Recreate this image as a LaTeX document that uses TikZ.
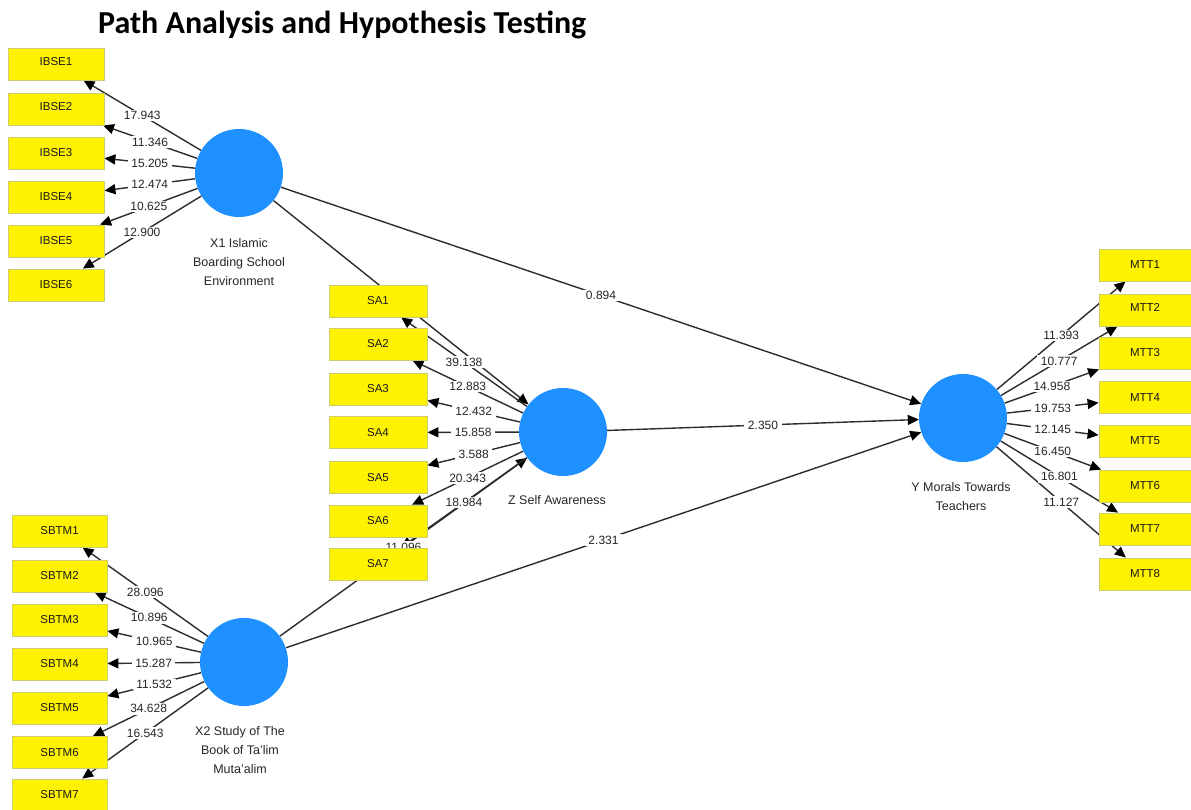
\documentclass[tikz,border=0pt]{standalone}
\usepackage{fontspec}
\setmainfont{Liberation Sans}
\newfontfamily\titlefont{Carlito}
\usetikzlibrary{arrows.meta}
\definecolor{latblue}{RGB}{30,144,255}
\definecolor{boxline}{RGB}{205,205,110}
\definecolor{edgecol}{RGB}{45,45,45}
\pgfdeclarelayer{back}
\pgfdeclarelayer{bg}
\pgfsetlayers{back,bg,main}
\begin{document}
\begin{tikzpicture}[x=1pt,y=-1pt,
 ind/.style={draw=boxline,line width=0.8pt,fill=yellow,minimum width=96pt,minimum height=32pt,inner sep=0pt,font=\fontsize{11.5}{12}\selectfont,text=black!90},
 lat/.style={circle,fill=latblue,minimum size=88pt,inner sep=0pt},
 arr/.style={draw=edgecol,line width=1.4pt,-{Triangle[length=11pt,width=10pt,black]}},
 lbl/.style={fill=white,inner xsep=3.5pt,inner ysep=1.5pt,font=\fontsize{12}{13}\selectfont,text=black!85},
 latcap/.style={align=center,font=\fontsize{12.5}{19}\selectfont,text=black!85}]
\useasboundingbox (0,0) rectangle (1191,810);
\begin{pgfonlayer}{back}
\fill[white] (0,0) rectangle (1191,810);
\end{pgfonlayer}

% title
\node[anchor=base west,inner sep=0pt,font=\titlefont\bfseries\fontsize{32}{36}\selectfont] (title) at (98,34) {Path Analysis and Hypothesis Testing};

% latent variables
\node[lat] (X1) at (239,173) {};
\node[lat] (Z) at (563,432) {};
\node[lat] (Y) at (963,418) {};
\node[lat] (X2) at (244,662) {};
\node[latcap] (X1cap) at (239,262) {X1 Islamic\\Boarding School\\Environment};
\node[latcap] (Zcap) at (557,500) {Z Self Awareness};
\node[latcap] (Ycap) at (961,497) {Y Morals Towards\\Teachers};
\node[latcap] (X2cap) at (240,750) {X2 Study of The\\Book of Ta'lim\\Muta'alim};

% indicators
\foreach \i/\y/\r in {1/64/6,2/109/6,3/153/0,4/197/0,5/241/0,6/285/0}
  \node[ind] (IBSE\i) at (56,\y) {\raisebox{\r pt}{IBSE\i}};
\foreach \i/\y in {1/301,2/344,3/389,4/432.5,5/477.5,6/521,7/564}
  \node[ind,minimum width=98pt] (SA\i) at (378,\y) {SA\i};
\foreach \i/\y in {1/531,2/576,3/620,4/664,5/708,6/752.5,7/795}
  \node[ind,minimum width=95pt] (SBTM\i) at (59.5,\y) {SBTM\i};
\foreach \i/\y/\r in {1/265/0,2/310/6,3/353/0,4/397.5/0,5/441/0,6/486/0,7/529/0,8/574/0}
  \node[ind,minimum width=92pt] (MTT\i) at (1145,\y) {\raisebox{\r pt}{MTT\i}};

\begin{pgfonlayer}{bg}
% structural paths
\draw[arr] (X1) -- (Z);
\draw[arr] (X2) -- (Z);
\draw[arr] (X1) -- (Y);
\draw[arr] (Z) -- (Y);
\draw[arr] (X2) -- (Y);
% measurement paths
\foreach \i in {1,...,6} \draw[arr] (X1) -- (IBSE\i);
\foreach \i in {1,...,7} \draw[arr] (Z) -- (SA\i);
\foreach \i in {1,...,7} \draw[arr] (X2) -- (SBTM\i);
\foreach \i in {1,...,8} \draw[arr] (Y) -- (MTT\i);
% labels
\path (X2) -- (Z) node[lbl,pos=0.5] (lXZ) {11.096};
\path (X1) -- (Y) node[lbl,pos=0.5] (lX1Y) {0.894};
\path (Z) -- (Y) node[lbl,pos=0.5] (lZY) {2.350};
\path (X2) -- (Y) node[lbl,pos=0.5] (lX2Y) {2.331};
\foreach \i/\v in {1/17.943,2/11.346,3/15.205,4/12.474,5/10.625,6/12.900}
  \path (X1) -- (IBSE\i) node[lbl,pos=0.5] {\v};
\foreach \i/\v in {1/39.138,2/12.883,3/12.432,4/15.858,5/3.588,6/20.343,7/18.984}
  \path (Z) -- (SA\i) node[lbl,pos=0.5] {\v};
\foreach \i/\v in {1/28.096,2/10.896,3/10.965,4/15.287,5/11.532,6/34.628,7/16.543}
  \path (X2) -- (SBTM\i) node[lbl,pos=0.5] {\v};
\foreach \i/\v in {1/11.393,2/10.777,3/14.958,4/19.753,5/12.145,6/16.450,7/16.801,8/11.127}
  \path (Y) -- (MTT\i) node[lbl,pos=0.5] {\v};
\end{pgfonlayer}
\end{tikzpicture}
\end{document}
